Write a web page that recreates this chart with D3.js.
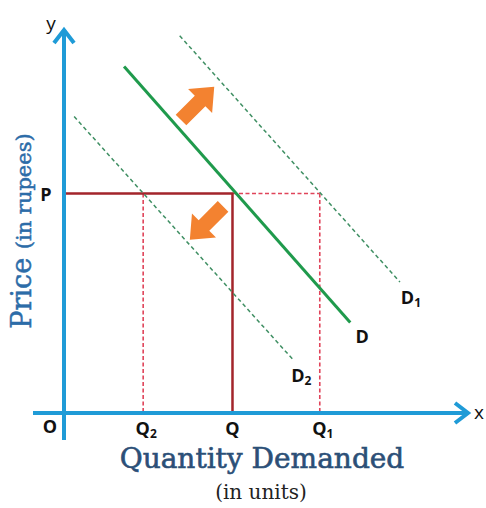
<!DOCTYPE html>
<html>
<head>
<meta charset="utf-8">
<script src="https://cdn.jsdelivr.net/npm/d3@7"></script>
<style>
  body { margin: 0; background: #fff; }
  svg { display: block; }
</style>
</head>
<body>
<svg id="chart"></svg>
<script>
// demand curves, in (quantity, price) units
var curveNames = ['D2', 'D', 'D1'];
var curveStart = [[0.5, 15.4], [2.96, 18.0], [5.7, 19.6]];
var curveEnd = [[11.3, 2.75], [14.1, 4.7], [16.55, 6.8]];

// equilibrium levels
var priceP = 11.4;
var quantities = [3.9, 8.3, 12.6];           // Q2, Q, Q1
var quantityLabels = [['Q', '2'], ['Q', ''], ['Q', '1']];

// shift arrows: centre and direction in degrees
var shiftCentres = [[6.6, 16.1], [7.0, 9.85]];
var shiftAngles = [-45, 135];

var width = 486;
var height = 508;

var svg = d3.select('#chart')
  .attr('width', width)
  .attr('height', height);

var x = d3.scaleLinear().domain([0, 20]).range([64, 470]);
var y = d3.scaleLinear().domain([0, 20]).range([413, 28]);

var axisBlue = '#1f9bd7';
var darkRed = '#a3252b';
var lightRed = '#e0445a';
var green = '#1f9a4c';
var dashGreen = '#3f8f63';
var orange = '#f38230';

// dashed guides to Q2 and Q1
svg.append('line')
  .attr('x1', x(quantities[1])).attr('y1', y(priceP))
  .attr('x2', x(quantities[2])).attr('y2', y(priceP))
  .attr('stroke', lightRed).attr('stroke-width', 1.6)
  .attr('stroke-dasharray', '4,2.5');

[0, 2].forEach(function(i) {
  svg.append('line')
    .attr('x1', x(quantities[i])).attr('y1', y(priceP))
    .attr('x2', x(quantities[i])).attr('y2', y(0))
    .attr('stroke', lightRed).attr('stroke-width', 1.6)
    .attr('stroke-dasharray', '4,2.5');
});

// solid P-Q lines
svg.append('path')
  .attr('d', 'M' + x(0) + ',' + y(priceP) + 'H' + x(quantities[1]) + 'V' + y(0))
  .attr('fill', 'none')
  .attr('stroke', darkRed)
  .attr('stroke-width', 2.5);

// demand curves
curveNames.forEach(function(name, i) {
  var line = svg.append('line')
    .attr('x1', x(curveStart[i][0])).attr('y1', y(curveStart[i][1]))
    .attr('x2', x(curveEnd[i][0])).attr('y2', y(curveEnd[i][1]));
  if (name == 'D') {
    line.attr('stroke', green).attr('stroke-width', 3);
  } else {
    line.attr('stroke', dashGreen).attr('stroke-width', 1.5)
      .attr('stroke-dasharray', '4,3');
  }
});

// block arrows showing the shift
var arrowShape = [[-24, -7.5], [3, -7.5], [3, -17], [23, 0], [3, 17], [3, 7.5], [-24, 7.5]];
shiftCentres.forEach(function(c, i) {
  svg.append('polygon')
    .attr('points', arrowShape.map(function(p) { return p.join(','); }).join(' '))
    .attr('transform', 'translate(' + x(c[0]) + ',' + y(c[1]) + ') rotate(' + shiftAngles[i] + ')')
    .attr('fill', orange);
});

// axes
svg.append('line')
  .attr('x1', x(0)).attr('y1', 440)
  .attr('x2', x(0)).attr('y2', y(20) + 2)
  .attr('stroke', axisBlue).attr('stroke-width', 4);
svg.append('polyline')
  .attr('points', [[x(0) - 10, y(20) + 15], [x(0), y(20) + 2], [x(0) + 10, y(20) + 15]].join(' '))
  .attr('fill', 'none').attr('stroke', axisBlue).attr('stroke-width', 4)
  .attr('stroke-linejoin', 'miter');

svg.append('line')
  .attr('x1', 33).attr('y1', y(0))
  .attr('x2', x(20) - 2).attr('y2', y(0))
  .attr('stroke', axisBlue).attr('stroke-width', 4);
svg.append('polyline')
  .attr('points', [[x(20) - 15, y(0) - 10], [x(20) - 2, y(0)], [x(20) - 15, y(0) + 10]].join(' '))
  .attr('fill', 'none').attr('stroke', axisBlue).attr('stroke-width', 4)
  .attr('stroke-linejoin', 'miter');

// point labels
var labelFont = 'Open Sans, Liberation Sans, sans-serif';

function label(px, py, main, sub) {
  var t = svg.append('text')
    .attr('x', px).attr('y', py)
    .attr('text-anchor', 'middle')
    .attr('font-family', labelFont)
    .attr('font-weight', 700)
    .attr('font-size', 18)
    .attr('fill', '#111');
  t.append('tspan').text(main);
  if (sub) {
    t.append('tspan').attr('dy', 3).attr('font-size', 12).text(sub);
  }
  return t;
}

label(46, y(priceP) + 7, 'P');
label(50, y(0) + 20, 'O');
quantities.forEach(function(q, i) {
  label(x(q) + (quantityLabels[i][1] ? 3 : 0), y(0) + 22, quantityLabels[i][0], quantityLabels[i][1]);
});
curveNames.forEach(function(name, i) {
  var pos = [x(curveEnd[i][0]) + 8, y(curveEnd[i][1]) + 22];
  if (name == 'D') pos = [x(curveEnd[i][0]) + 12, y(curveEnd[i][1]) + 20];
  if (name == 'D1') pos = [x(curveEnd[i][0]) + 11, y(curveEnd[i][1]) + 22];
  label(pos[0], pos[1], 'D', name.slice(1));
});

svg.append('text')
  .attr('x', 51).attr('y', 30)
  .attr('text-anchor', 'middle')
  .attr('font-family', labelFont).attr('font-size', 19)
  .attr('fill', '#111')
  .text('y');
svg.append('text')
  .attr('x', 479).attr('y', y(0) + 6)
  .attr('text-anchor', 'middle')
  .attr('font-family', labelFont).attr('font-size', 19)
  .attr('fill', '#111')
  .text('x');

// axis titles
var serif = 'DejaVu Serif, Liberation Serif, serif';

var yTitle = svg.append('text')
  .attr('transform', 'translate(31,231) rotate(-90)')
  .attr('text-anchor', 'middle')
  .attr('font-family', serif)
  .attr('fill', '#2c6ca8')
  .attr('stroke', '#2c6ca8')
  .attr('stroke-width', 0.5);
yTitle.append('tspan').attr('font-size', 27).text('Price ');
yTitle.append('tspan').attr('font-size', 21).text('(in rupees)');

svg.append('text')
  .attr('x', 262).attr('y', 468)
  .attr('text-anchor', 'middle')
  .attr('font-family', serif)
  .attr('font-size', 28)
  .attr('fill', '#2b4f77')
  .attr('stroke', '#2b4f77')
  .attr('stroke-width', 0.6)
  .text('Quantity Demanded');

svg.append('text')
  .attr('x', 261).attr('y', 499)
  .attr('text-anchor', 'middle')
  .attr('font-family', serif)
  .attr('font-size', 20)
  .attr('fill', '#222')
  .text('(in units)');
</script>
</body>
</html>
